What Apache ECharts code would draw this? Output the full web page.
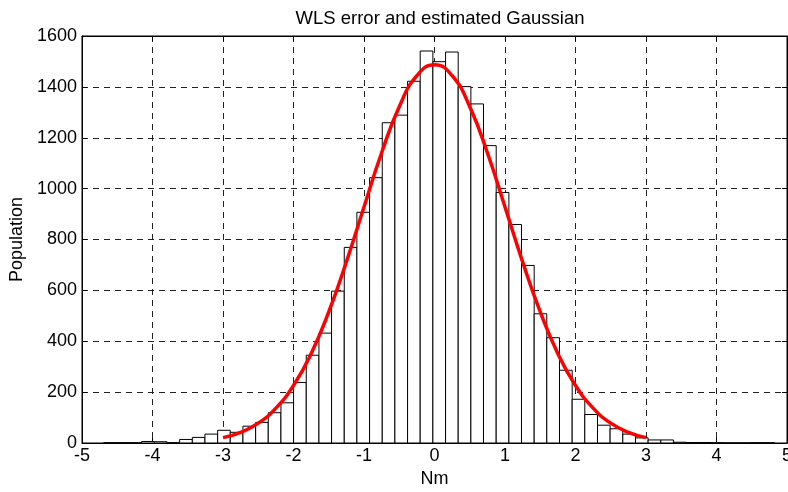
<!DOCTYPE html>
<html>
<head>
<meta charset="utf-8">
<script src="https://cdn.jsdelivr.net/npm/echarts@6/dist/echarts.min.js"></script>
<style>
  html, body { margin: 0; padding: 0; background: #fff; }
  #chart { width: 788px; height: 492px; }
</style>
</head>
<body>
<div id="chart"></div>
<script>
// histogram bin edges (Nm) and counts
const binEdges = [
  -4.693, -4.513, -4.333, -4.154, -3.974, -3.795, -3.615, -3.435, -3.256, -3.076,
  -2.897, -2.717, -2.537, -2.358, -2.178, -1.999, -1.819, -1.639, -1.460, -1.280,
  -1.101, -0.921, -0.741, -0.562, -0.382, -0.203, -0.023, 0.157, 0.336, 0.516,
  0.695, 0.875, 1.055, 1.234, 1.414, 1.593, 1.773, 1.953, 2.132, 2.312,
  2.491, 2.671, 2.851, 3.030, 3.210, 3.389, 3.569, 3.749, 3.928, 4.108,
  4.287, 4.467, 4.647, 4.826
]
const binCounts = [
  1, 1, 1, 6, 5, 1, 14, 22, 35, 50,
  42, 66, 81, 119, 158, 238, 345, 432, 597, 769,
  907, 1043, 1259, 1289, 1422, 1541, 1499, 1537, 1401, 1333,
  1169, 985, 859, 698, 508, 414, 286, 172, 112, 70,
  56, 35, 20, 12, 12, 3, 2, 2, 1, 0,
  0, 1, 1
]

// estimated gaussian curve
const fitX = [-3, -2.75, -2.5, -2.25, -2, -1.75, -1.5, -1.25, -1, -0.75, -0.5, -0.25, 0,
  0.25, 0.5, 0.75, 1, 1.25, 1.5, 1.75, 2, 2.25, 2.5, 2.75, 3]
const fitY = [21, 42, 78, 137, 226, 351, 515, 712, 928, 1141, 1322, 1444, 1487,
  1444, 1322, 1141, 928, 712, 515, 351, 226, 137, 78, 42, 21]

const xTicks = [-5, 5, 1]
const yTicks = [0, 1600, 200]

const font = 'Liberation Sans, Arial, sans-serif'
const gridLine = { show: true, lineStyle: { color: '#222', width: 1, type: [6, 5] } }

const histData = binCounts.map((c, i) => [binEdges[i], binEdges[i + 1], c])
const fitData = fitX.map((x, i) => [x, fitY[i]])

const chart = echarts.init(document.getElementById('chart'), null, { renderer: 'canvas' })

chart.setOption({
  animation: false,
  backgroundColor: '#fff',
  title: {
    text: 'WLS error and estimated Gaussian',
    left: 435,
    textAlign: 'center',
    top: 4,
    textStyle: { fontFamily: font, fontSize: 18.5, fontWeight: 'normal', color: '#000' },
  },
  grid: {
    left: 82,
    right: 1,
    top: 36,
    bottom: 49,
    outerBoundsMode: 'none',
    containLabel: false,
    show: true,
    borderColor: '#000',
    borderWidth: 1,
  },
  xAxis: [
    {
      type: 'value',
      min: xTicks[0],
      max: xTicks[1],
      interval: xTicks[2],
      name: 'Nm',
      nameLocation: 'middle',
      nameGap: 26,
      nameTextStyle: { fontFamily: font, fontSize: 18, color: '#000' },
      axisLine: { show: true, onZero: false, lineStyle: { color: '#000', width: 1 } },
      axisTick: { show: true, inside: true, length: 5, lineStyle: { color: '#000' } },
      axisLabel: { fontFamily: font, fontSize: 18, color: '#000', margin: 4, hideOverlap: false },
      splitLine: gridLine,
    },
    {
      type: 'value',
      position: 'top',
      min: xTicks[0],
      max: xTicks[1],
      interval: xTicks[2],
      axisLine: { show: true, onZero: false, lineStyle: { color: '#000', width: 1 } },
      axisTick: { show: true, inside: true, length: 5, lineStyle: { color: '#000' } },
      axisLabel: { show: false },
      splitLine: { show: false },
    },
  ],
  yAxis: [
    {
      type: 'value',
      min: yTicks[0],
      max: yTicks[1],
      interval: yTicks[2],
      name: 'Population',
      nameLocation: 'middle',
      nameGap: 54,
      nameTextStyle: { fontFamily: font, fontSize: 18, color: '#000' },
      axisLine: { show: true, onZero: false, lineStyle: { color: '#000', width: 1 } },
      axisTick: { show: true, inside: true, length: 5, lineStyle: { color: '#000' } },
      axisLabel: { fontFamily: font, fontSize: 18, color: '#000', margin: 5, formatter: (v) => String(v) },
      splitLine: gridLine,
    },
    {
      type: 'value',
      position: 'right',
      min: yTicks[0],
      max: yTicks[1],
      interval: yTicks[2],
      axisLine: { show: true, onZero: false, lineStyle: { color: '#000', width: 1 } },
      axisTick: { show: true, inside: true, length: 5, lineStyle: { color: '#000' } },
      axisLabel: { show: false },
      splitLine: { show: false },
    },
  ],
  series: [
    {
      name: 'Histogram',
      type: 'custom',
      xAxisIndex: 0,
      yAxisIndex: 0,
      data: histData,
      encode: { x: [0, 1], y: 2 },
      renderItem: (params, api) => {
        const p0 = api.coord([api.value(0), 0])
        const p1 = api.coord([api.value(1), api.value(2)])
        return {
          type: 'rect',
          shape: { x: p0[0], y: p1[1], width: p1[0] - p0[0], height: p0[1] - p1[1] },
          style: { fill: '#fff', stroke: '#000', lineWidth: 1 },
        }
      },
      z: 2,
    },
    {
      name: 'Gaussian',
      type: 'line',
      xAxisIndex: 0,
      yAxisIndex: 0,
      data: fitData,
      smooth: true,
      showSymbol: false,
      lineStyle: { color: '#ff0000', width: 3.5 },
      z: 3,
    },
  ],
})
</script>
</body>
</html>
